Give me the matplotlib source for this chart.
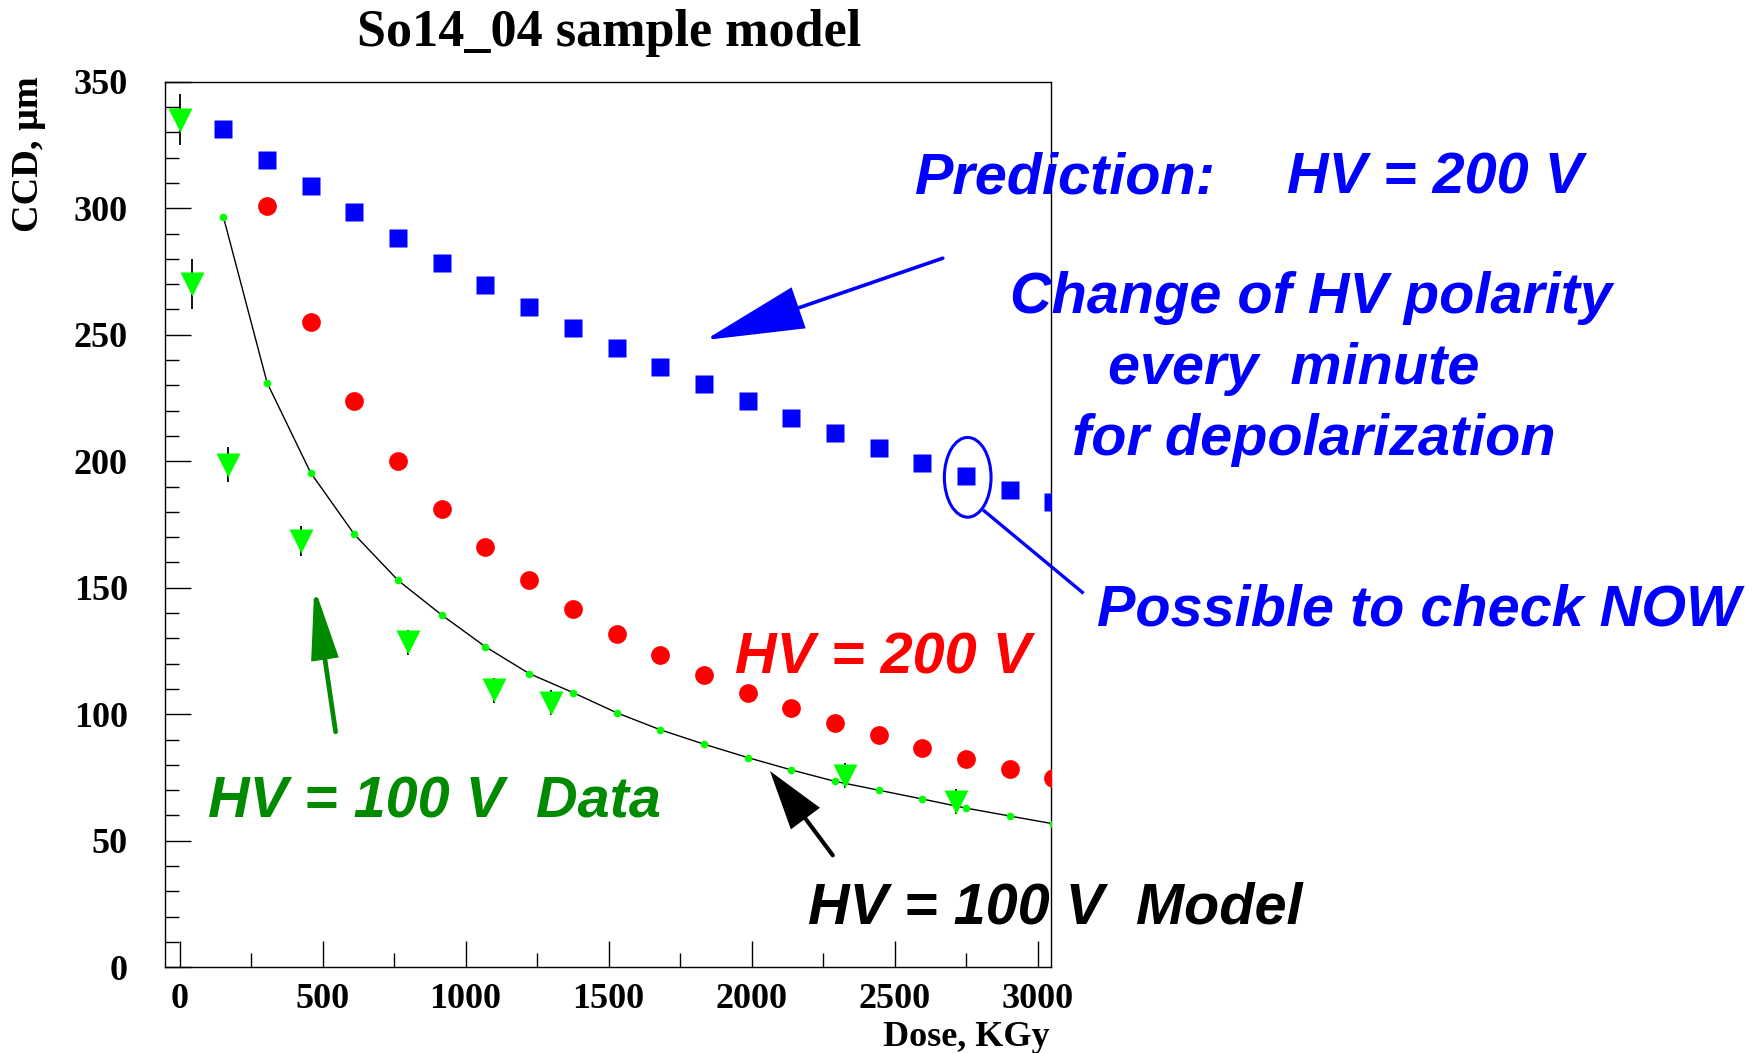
import matplotlib
matplotlib.use('Agg')
import matplotlib.pyplot as plt
from matplotlib.ticker import MultipleLocator
from matplotlib.patches import Ellipse, FancyArrowPatch, ArrowStyle
from matplotlib.lines import Line2D

W, H = 1760, 1053

# dose points of the model / prediction, KGy
dose = [153, 306, 458, 611, 764, 917, 1069, 1222, 1375, 1528,
        1680, 1833, 1986, 2139, 2291, 2444, 2597, 2750, 2902, 3055]

# HV = 200 V with polarity change (prediction)
ccd_pred = [331.2, 319.2, 308.6, 298.4, 288.2, 278.4, 269.5, 261.1, 252.7, 244.7,
            237.2, 230.5, 223.9, 217.2, 211.0, 205.3, 199.5, 194.2, 188.8, 184.0]
# HV = 200 V, starts at the second dose point
ccd_200 = [301.0, 255.2, 223.9, 199.9, 181.3, 166.2, 152.9, 141.8, 131.6, 123.6,
           115.6, 108.6, 102.4, 96.6, 91.7, 86.8, 82.4, 78.4, 74.9]
# HV = 100 V model
ccd_model = [296.6, 231.0, 195.5, 171.1, 152.9, 139.2, 126.7, 116.1, 108.6, 100.6,
             93.9, 88.2, 82.9, 78.0, 73.5, 70.0, 66.5, 62.9, 59.8, 56.7]

# HV = 100 V measured
dose_data = [0, 45, 168, 423, 800, 1099, 1299, 2327, 2715]
ccd_data = [335.0, 270.0, 198.6, 168.4, 128.5, 109.4, 104.6, 75.7, 65.5]
ccd_err = [10, 10, 7, 6, 5, 5, 5, 5, 5]

plt.rcParams['font.family'] = ['Liberation Serif', 'DejaVu Serif']
plt.rcParams['font.weight'] = 'bold'
plt.rcParams['font.size'] = 26

BLUE = '#0000ff'
RED = '#ff0000'
LIME = '#00ff00'
DKGREEN = '#008a00'


def fpos(x, y):
    # pixel position -> figure fraction
    return (x / W, 1 - y / H)


fig = plt.figure(figsize=(W / 100, H / 100), dpi=100)
ax = fig.add_axes([165.3 / W, 1 - 967.3 / H, (1051.4 - 165.3) / W, (967.3 - 81.7) / H])

ax.plot(dose, ccd_model, color='black', lw=1.0, zorder=2)
ax.plot(dose, ccd_model, 'o', color=LIME, ms=5.5, mec='none', zorder=3)
ax.plot(dose, ccd_pred, 's', color=BLUE, ms=13, mec='none', zorder=3)
ax.plot(dose[1:], ccd_200, 'o', color=RED, ms=13.5, mec='none', zorder=3)
ax.errorbar(dose_data, ccd_data, yerr=ccd_err, fmt='v', color=LIME, ms=17,
            mec='none', ecolor='black', elinewidth=1.3, capsize=0, zorder=4)

ax.set_xlim(-50, 3048)
ax.set_ylim(0, 350)
ax.xaxis.set_major_locator(MultipleLocator(500))
ax.xaxis.set_minor_locator(MultipleLocator(250))
ax.yaxis.set_major_locator(MultipleLocator(50))
ax.yaxis.set_minor_locator(MultipleLocator(10))
ax.tick_params(which='both', direction='in', top=False, right=False, width=1)
ax.tick_params(which='major', length=19)
ax.tick_params(which='minor', length=9.8)
ax.tick_params(axis='y', pad=27)
ax.tick_params(axis='x', pad=11)
for s in ax.spines.values():
    s.set_linewidth(1.0)

# titles
fig.text(*fpos(609, 46), 'So14_04 sample model', fontsize=37.5,
         ha='center', va='baseline')
fig.text(*fpos(1049.5, 1046), 'Dose, KGy', fontsize=26, ha='right', va='baseline')
fig.text(*fpos(28, 76), 'CCD, \u03bcm', fontsize=27.5, rotation=90,
         ha='center', va='top')

# annotations
sans = dict(family='Liberation Sans', weight='bold', style='italic', fontsize=41.5)
fig.text(*fpos(915, 193), 'Prediction:', color=BLUE, va='baseline', **sans)
fig.text(*fpos(1287, 193), 'HV = 200 V', color=BLUE, va='baseline', **sans)
fig.text(*fpos(1010, 313), 'Change of HV polarity', color=BLUE, va='baseline', **sans)
fig.text(*fpos(1108, 384), 'every  minute', color=BLUE, va='baseline', **sans)
fig.text(*fpos(1072, 455), 'for depolarization', color=BLUE, va='baseline', **sans)
fig.text(*fpos(1097, 625), 'Possible to check NOW', color=BLUE, va='baseline', **sans)
fig.text(*fpos(735, 673), 'HV = 200 V', color=RED, va='baseline', **sans)
fig.text(*fpos(208, 817), 'HV = 100 V  Data', color=DKGREEN, va='baseline', **sans)
fig.text(*fpos(808, 924), 'HV = 100 V  Model', color='black', va='baseline', **sans)


def arrow(tail, tip, color, lw, hl, hw):
    a = FancyArrowPatch(fpos(*tail), fpos(*tip), transform=fig.transFigure,
                        arrowstyle=ArrowStyle('-|>', head_length=hl, head_width=hw),
                        mutation_scale=1, color=color, lw=lw,
                        shrinkA=0, shrinkB=0, joinstyle='miter')
    fig.add_artist(a)


arrow((942.8, 258.2), (704.9, 340.1), BLUE, 2.6, 64, 14)
arrow((335.6, 731.8), (314.3, 587.0), DKGREEN, 3.4, 42, 8)
arrow((832.8, 855.3), (770.0, 771.1), 'black', 3.0, 36, 11)

# circled point and pointer line
fig.add_artist(Ellipse(fpos(967.7, 477.3), 46.7 / W, 79.7 / H,
                       transform=fig.transFigure, fill=False,
                       edgecolor=BLUE, lw=2.2))
fig.add_artist(Line2D([984.3 / W, 1082.3 / W], [1 - 511 / H, 1 - 592.3 / H],
                      transform=fig.transFigure, color=BLUE, lw=2.4))

fig.savefig('out.png', dpi=100)
